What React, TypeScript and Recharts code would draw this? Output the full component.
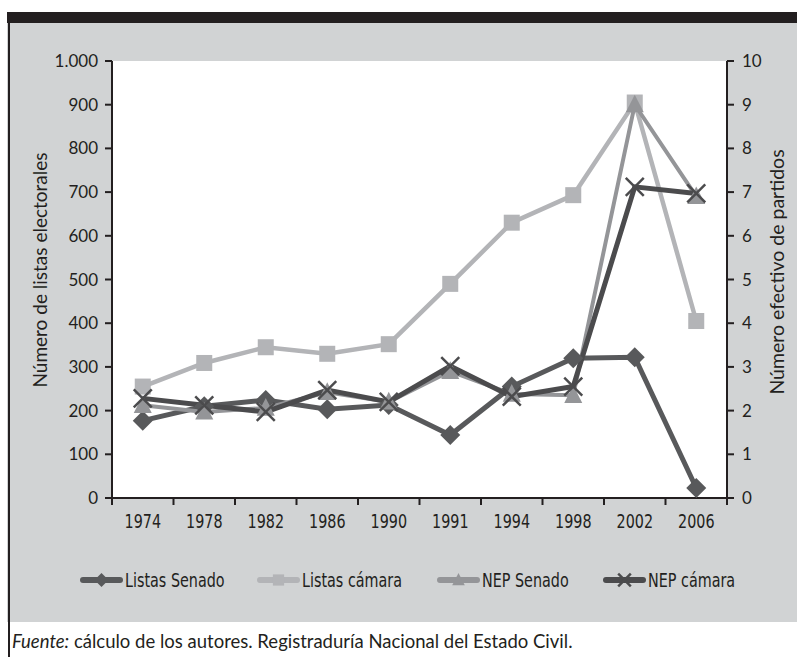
import { LineChart, Line, XAxis, YAxis, CartesianGrid, Legend } from 'recharts';

const years = ['1974', '1978', '1982', '1986', '1990', '1991', '1994', '1998', '2002', '2006'];
const listasSenado = [177, 210, 224, 203, 213, 144, 255, 320, 322, 23];
const listasCamara = [255, 309, 345, 330, 352, 490, 630, 693, 905, 405];
const nepSenado = [2.12, 1.97, 2.06, 2.42, 2.2, 2.9, 2.38, 2.35, 9.0, 6.9];
const nepCamara = [2.28, 2.12, 1.97, 2.47, 2.2, 3.02, 2.32, 2.55, 7.12, 6.97];
const leftTicks = [0, 100, 200, 300, 400, 500, 600, 700, 800, 900, 1000];
const rightTicks = [0, 1, 2, 3, 4, 5, 6, 7, 8, 9, 10];

const data = years.map((year, i) => ({
  year,
  listasSenado: listasSenado[i],
  listasCamara: listasCamara[i],
  nepSenado: nepSenado[i],
  nepCamara: nepCamara[i],
}));

const W = 797;
const H = 657;
const PLOT_LEFT = 112;
const PLOT_RIGHT = 727;
const PLOT_TOP = 61;
const PLOT_BOTTOM = 498;
const BAND = (PLOT_RIGHT - PLOT_LEFT) / years.length;

const INK = '#231f20';
const PANEL = '#d1d3d4';
const HUMANIST = 'Lato, "Open Sans", sans-serif';
const NARROW = '"DejaVu Sans Condensed", "DejaVu Sans", sans-serif';
const SQUEEZE = 0.84;

// legend item left edges, taken from the original layout
const LEGEND_X = [80, 257, 437, 603];

type Shape = 'diamond' | 'square' | 'triangle' | 'cross';

const SERIES: { key: string; name: string; color: string; width: number; shape: Shape; axis: string }[] = [
  { key: 'listasSenado', name: 'Listas Senado', color: '#58595b', width: 5, shape: 'diamond', axis: 'left' },
  { key: 'listasCamara', name: 'Listas cámara', color: '#b3b4b7', width: 4.5, shape: 'square', axis: 'left' },
  { key: 'nepSenado', name: 'NEP Senado', color: '#949598', width: 4, shape: 'triangle', axis: 'right' },
  { key: 'nepCamara', name: 'NEP cámara', color: '#4b4b4d', width: 5, shape: 'cross', axis: 'right' },
];

function Marker({ shape, cx, cy, color, r }: { shape: Shape; cx: number; cy: number; color: string; r: number }) {
  if (shape === 'diamond') {
    return <polygon points={`${cx},${cy - r} ${cx + r},${cy} ${cx},${cy + r} ${cx - r},${cy}`} fill={color} />;
  }
  if (shape === 'square') {
    const s = r * 0.8;
    return <rect x={cx - s} y={cy - s} width={s * 2} height={s * 2} fill={color} />;
  }
  if (shape === 'triangle') {
    const s = r * 0.9;
    return <polygon points={`${cx},${cy - r} ${cx + s},${cy + s * 0.85} ${cx - s},${cy + s * 0.85}`} fill={color} />;
  }
  const s = r * 0.9;
  return (
    <g stroke={color} strokeWidth={2.5}>
      <line x1={cx - s} y1={cy - s} x2={cx + s} y2={cy + s} />
      <line x1={cx - s} y1={cy + s} x2={cx + s} y2={cy - s} />
    </g>
  );
}

const makeDot = (shape: Shape, color: string) => (props: any) => {
  const { cx, cy, index } = props;
  if (cx == null || cy == null) return <g key={index} />;
  return <Marker key={index} shape={shape} cx={cx} cy={cy} color={color} r={10} />;
};

function XTick(props: any) {
  const { x, payload, index } = props;
  const last = index === years.length - 1;
  return (
    <g>
      <line x1={x - BAND / 2} x2={x - BAND / 2} y1={PLOT_BOTTOM} y2={PLOT_BOTTOM + 7} stroke={INK} strokeWidth={2} />
      {last && (
        <line x1={x + BAND / 2} x2={x + BAND / 2} y1={PLOT_BOTTOM} y2={PLOT_BOTTOM + 7} stroke={INK} strokeWidth={2} />
      )}
      <text
        transform={`translate(${x}, ${PLOT_BOTTOM + 30}) scale(${SQUEEZE}, 1)`}
        textAnchor="middle"
        fill={INK}
        fontSize={19}
        fontFamily={NARROW}
      >
        {payload.value}
      </text>
    </g>
  );
}

const fmtThousands = (v: number) => String(v).replace(/\B(?=(\d{3})+(?!\d))/g, '.');

function LegendContent({ payload }: any) {
  return (
    <svg width={W} height={24} style={{ display: 'block' }}>
      {(payload || []).map((p: any, i: number) => {
        const s = SERIES.find((d) => d.key === p.dataKey) || SERIES[0];
        const x0 = LEGEND_X[i];
        return (
          <g key={s.key}>
            <line x1={x0 + 3} x2={x0 + 40} y1={12} y2={12} stroke={s.color} strokeWidth={6} strokeLinecap="round" />
            <Marker shape={s.shape} cx={x0 + 21.5} cy={12} color={s.color} r={7} />
            <text
              transform={`translate(${x0 + 45}, 19) scale(${SQUEEZE}, 1)`}
              fill={INK}
              fontSize={19}
              fontFamily={NARROW}
            >
              {p.value}
            </text>
          </g>
        );
      })}
    </svg>
  );
}

export default function App() {
  return (
    <div style={{ position: 'absolute', left: 0, top: 0, width: W, height: H, background: '#fff', overflow: 'hidden' }}>
      <div style={{ position: 'absolute', left: 7, top: 12, width: W - 7, height: 11, background: INK }} />
      <div style={{ position: 'absolute', left: 7, top: 23, width: W - 7, height: 599, background: PANEL }} />
      <div style={{ position: 'absolute', left: 8, top: 12, width: 1.5, height: H - 12, background: INK }} />
      <div style={{ position: 'absolute', left: 0, top: 0 }}>
        <LineChart
          width={W}
          height={H}
          data={data}
          margin={{ top: PLOT_TOP, right: 0, left: 0, bottom: H - PLOT_BOTTOM - 30 }}
        >
          <CartesianGrid fill="#fff" horizontal={false} vertical={false} stroke="none" />
          <XAxis
            dataKey="year"
            scale="band"
            height={30}
            tickLine={false}
            axisLine={{ stroke: INK, strokeWidth: 2 }}
            tick={<XTick />}
            interval={0}
          />
          <YAxis
            yAxisId="left"
            width={PLOT_LEFT}
            domain={[0, 1000]}
            ticks={leftTicks}
            tickFormatter={fmtThousands}
            tickSize={7}
            tickMargin={7}
            axisLine={{ stroke: INK, strokeWidth: 2 }}
            tickLine={{ stroke: INK, strokeWidth: 2 }}
            tick={{ fill: INK, fontSize: 17, fontFamily: HUMANIST }}
            label={{
              content: () => (
                <text
                  transform={`translate(47, 270) rotate(-90)`}
                  textAnchor="middle"
                  fill={INK}
                  fontSize={19}
                  fontFamily={HUMANIST}
                >
                  Número de listas electorales
                </text>
              ),
            }}
          />
          <YAxis
            yAxisId="right"
            orientation="right"
            width={W - PLOT_RIGHT}
            domain={[0, 10]}
            ticks={rightTicks}
            tickSize={7}
            tickMargin={8}
            axisLine={{ stroke: INK, strokeWidth: 2 }}
            tickLine={{ stroke: INK, strokeWidth: 2 }}
            tick={{ fill: INK, fontSize: 17, fontFamily: HUMANIST }}
            label={{
              content: () => (
                <text
                  transform={`translate(784, 272) rotate(-90)`}
                  textAnchor="middle"
                  fill={INK}
                  fontSize={19.5}
                  fontFamily={HUMANIST}
                >
                  Número efectivo de partidos
                </text>
              ),
            }}
          />
          {SERIES.map((s) => (
            <Line
              key={s.key}
              yAxisId={s.axis}
              dataKey={s.key}
              name={s.name}
              stroke={s.color}
              strokeWidth={s.width}
              dot={makeDot(s.shape, s.color)}
              activeDot={false}
              isAnimationActive={false}
            />
          ))}
          <Legend
            layout="horizontal"
            verticalAlign="middle"
            align="center"
            wrapperStyle={{ position: 'absolute', left: 0, top: 568, width: W }}
            content={<LegendContent />}
          />
        </LineChart>
      </div>
      <div
        style={{
          position: 'absolute',
          left: 12,
          top: 630,
          fontFamily: HUMANIST,
          fontSize: 18.5,
          color: INK,
          whiteSpace: 'nowrap',
        }}
      >
        <i>Fuente:</i> cálculo de los autores. Registraduría Nacional del Estado Civil.
      </div>
    </div>
  );
}
